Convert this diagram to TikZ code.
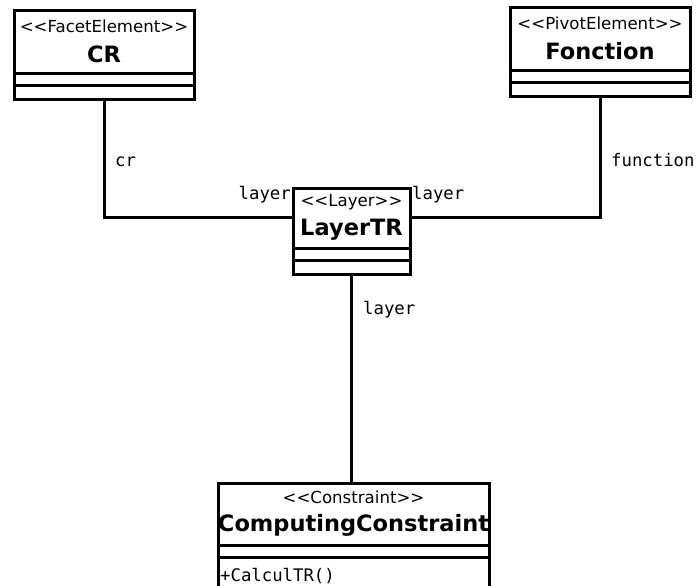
\documentclass[tikz,border=0pt]{standalone}
\usepackage{fontspec}
\setmainfont{DejaVu Sans}[Ligatures=NoCommon]
\newfontfamily\monof{DejaVu Sans Mono}
\newfontfamily\boldf{DejaVu Sans Bold}
\newcommand{\lt}{{<}\kern0pt{<}}
\newcommand{\gt}{{>}\kern0pt{>}}
\begin{document}
\begin{tikzpicture}[x=1pt,y=-1pt,
  classbox/.style={draw,line width=3pt,rectangle,inner sep=0pt,fill=white},
  stereo/.style={font=\fontsize{16.6}{19}\selectfont,inner sep=0pt,anchor=center},
  cname/.style={font=\fontsize{22.5}{26}\selectfont\boldf,inner sep=0pt,anchor=center},
  sep/.style={line width=3pt},
  conn/.style={line width=3pt},
  lbl/.style={font=\fontsize{17.3}{20}\selectfont\monof,inner sep=0pt}]
\useasboundingbox (0,0) rectangle (696,586);
\node[classbox,minimum width=180pt,minimum height=88pt] (cr) at (104,55) {};
\node[classbox,minimum width=180pt,minimum height=88pt] (fon) at (600,52) {};
\node[classbox,minimum width=117pt,minimum height=86pt] (ltr) at (351.5,231) {};
\node[classbox,minimum width=271pt,minimum height=120pt] (cc) at (353.5,543) {};
\draw[conn] (cr.south) |- (ltr.west |- 0,217);
\draw[conn] (fon.south) |- (ltr.east |- 0,217);
\draw[conn] (ltr.south) -- (ltr.south |- cc.north);
% separators
\draw[sep] (cr.north west) ++(0,64) -- ++(180,0);
\draw[sep] (cr.north west) ++(0,76) -- ++(180,0);
\draw[sep] (fon.north west) ++(0,64) -- ++(180,0);
\draw[sep] (fon.north west) ++(0,76) -- ++(180,0);
\draw[sep] (ltr.north west) ++(0,62) -- ++(117,0);
\draw[sep] (ltr.north west) ++(0,74) -- ++(117,0);
\draw[sep] (cc.north west) ++(0,64) -- ++(271,0);
\draw[sep] (cc.north west) ++(0,76) -- ++(271,0);
% texts
\node[stereo] (crs) at (104,26) {\lt FacetElement\gt};
\node[cname] (crn) at (104,54) {CR};
\node[stereo] (fons) at (600,23) {\lt PivotElement\gt};
\node[cname] (fonn) at (600,51) {Fonction};
\node[stereo] (ltrs) at (351.5,202) {\lt Layer\gt};
\node[cname] (ltrn) at (351.5,230) {LayerTR};
\node[stereo] (ccs) at (353.5,497) {\lt Constraint\gt};
\node[cname] (ccn) at (353.5,525) {ComputingConstraint};
\node[lbl,anchor=west] (ccop) at (220,576) {+CalculTR()};
% labels
\node[lbl,anchor=west] (l1) at (115,162) {cr};
\node[lbl,anchor=east] (l2) at (291,195) {layer};
\node[lbl,anchor=west] (l3) at (412,195) {layer};
\node[lbl,anchor=west] (l4) at (611,160) {function};
\node[lbl,anchor=west] (l5) at (363,310) {layer};
\end{tikzpicture}
\end{document}
